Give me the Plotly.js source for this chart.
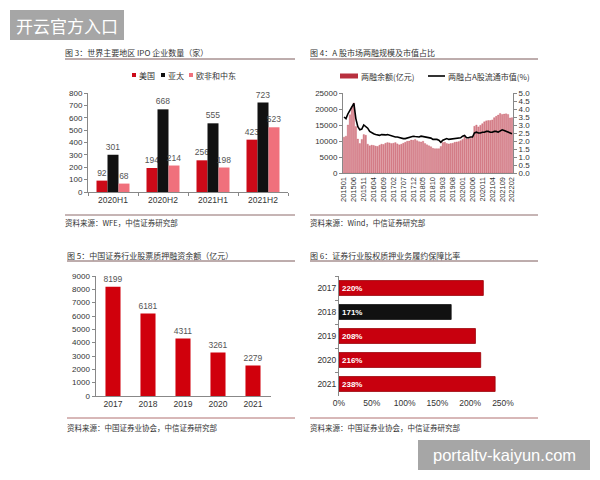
<!DOCTYPE html>
<html><head><meta charset="utf-8">
<script src="https://cdn.plot.ly/plotly-3.0.1.min.js"></script>
<style>html,body{margin:0;padding:0;background:#fff}#c{width:600px;height:480px}</style>
</head><body><div id="c"></div>
<script>
// ---- Chart 1: IPO counts ----
const ipoPeriods = ['2020H1','2020H2','2021H1','2021H2'];
const ipoUS = [92,194,256,423];
const ipoAPAC = [301,668,555,723];
const ipoEMEA = [68,214,198,523];
const ipoNames = ['美国','亚太','欧非和中东'];

// ---- Chart 2: margin trading ----
const marginMonths = [];
for (let y = 2015; y <= 2022; y++) for (let m = 1; m <= 12; m++) {
  if (y === 2022 && m > 2) break;
  marginMonths.push(String(y) + (m < 10 ? '0' : '') + m);
}
const marginBalance = [
  11200,11500,15000,18200,20800,21900,14500,10600,9200,10500,12000,11800,
  9000,8500,8700,8600,8400,8300,8700,9000,8900,9300,9500,9400,
  9200,9300,9500,9100,8800,9000,9300,9600,9900,10000,10300,10200,
  10500,10100,9800,9700,9900,9200,8800,8500,8200,7700,7600,7600,
  7600,8300,9500,9600,9200,9100,9200,9300,9600,9700,9800,10100,
  10500,11300,10600,10700,10800,11500,14600,15000,14400,14900,15400,16000,
  16300,16400,16400,16600,17300,17700,18100,18600,18300,18400,18500,18300,
  17200,17300];
const marginRatio = [
  3.5,3.4,3.7,3.9,4.1,4.35,3.4,2.9,2.7,2.75,3.0,2.9,
  2.8,2.6,2.5,2.45,2.4,2.35,2.35,2.4,2.38,2.38,2.4,2.35,
  2.3,2.25,2.25,2.25,2.2,2.2,2.15,2.15,2.2,2.25,2.3,2.3,
  2.28,2.25,2.25,2.3,2.28,2.25,2.22,2.2,2.18,2.1,2.12,2.1,
  2.05,1.92,2.05,2.12,2.15,2.1,2.12,2.15,2.15,2.15,2.18,2.2,
  2.3,2.35,2.2,2.2,2.25,2.25,2.5,2.55,2.5,2.5,2.55,2.55,
  2.6,2.6,2.55,2.55,2.6,2.6,2.55,2.62,2.7,2.65,2.6,2.5,
  2.45,2.45];
const marginNames = ['两融余额(亿元)','两融占A股流通市值(%)'];

// ---- Chart 3: pledge financing balance ----
const pledgeYears = ['2017','2018','2019','2020','2021'];
const pledgeBalance = [8199,6181,4311,3261,2279];

// ---- Chart 4: coverage ratio ----
const coverYears = ['2017','2018','2019','2020','2021'];
const coverRatio = [220,171,208,216,238];

const RED = '#cc0a18', PINK = '#f0707c', BLACK = '#111111';
const tickFont = {family:'Liberation Sans, Arial, sans-serif', size:8, color:'#333'};
const cjk = 'Noto Sans CJK SC, sans-serif';
const px = v => v/600, py = v => 1 - v/480;

const traces = [
  {type:'bar', x:ipoPeriods, y:ipoUS, name:ipoNames[0], xaxis:'x', yaxis:'y', width:0.22, offset:-0.33,
   marker:{color:RED}, text:ipoUS.map(String), textposition:'outside', constraintext:'none', cliponaxis:false,
   textfont:{family:tickFont.family, size:8.5, color:'#555'}},
  {type:'bar', x:ipoPeriods, y:ipoAPAC, name:ipoNames[1], xaxis:'x', yaxis:'y', width:0.22, offset:-0.11,
   marker:{color:BLACK}, text:ipoAPAC.map(String), textposition:'outside', constraintext:'none', cliponaxis:false,
   textfont:{family:tickFont.family, size:8.5, color:'#555'}},
  {type:'bar', x:ipoPeriods, y:ipoEMEA, name:ipoNames[2], xaxis:'x', yaxis:'y', width:0.22, offset:0.11,
   marker:{color:PINK}, text:ipoEMEA.map(String), textposition:'outside', constraintext:'none', cliponaxis:false,
   textfont:{family:tickFont.family, size:8.5, color:'#555'}},
  {type:'bar', x:marginMonths, y:marginBalance, name:marginNames[0], xaxis:'x2', yaxis:'y2', width:0.72,
   marker:{color:'#d88791', line:{color:'#c24a58', width:0.3}}},
  {type:'scatter', mode:'lines', x:marginMonths, y:marginRatio, name:marginNames[1], xaxis:'x2', yaxis:'y3',
   line:{color:'#000', width:1.6}},
  {type:'bar', x:pledgeYears, y:pledgeBalance, xaxis:'x4', yaxis:'y4', width:0.43,
   marker:{color:'#d0000c'}, text:pledgeBalance.map(String), textposition:'outside', constraintext:'none', cliponaxis:false,
   textfont:{family:tickFont.family, size:8.5, color:'#555'}},
  {type:'bar', orientation:'h', y:coverYears, x:coverRatio, xaxis:'x5', yaxis:'y5', width:0.62,
   marker:{color:coverYears.map(y => y === '2018' ? BLACK : '#c8000e'), line:{color:coverYears.map(y => y === '2018' ? BLACK : '#9a0008'), width:0.8}},
   text:coverRatio.map(v => v + '%'), textposition:'inside', insidetextanchor:'start', constraintext:'none',
   textfont:{family:tickFont.family, size:8, color:'#fff', weight:'bold'}}
];

const axBase = {showgrid:false, zeroline:false, showline:true, linecolor:'#888', linewidth:1,
  ticks:'outside', ticklen:3, tickcolor:'#888', tickfont:tickFont, fixedrange:true};

const layout = {
  width:600, height:480, margin:{l:0,r:0,t:0,b:0}, showlegend:false,
  paper_bgcolor:'#fff', plot_bgcolor:'rgba(0,0,0,0)', barmode:'overlay',
  xaxis:Object.assign({}, axBase, {domain:[px(88),px(288)], anchor:'y', type:'category', range:[-0.5,3.5], tickson:'boundaries', tickfont:Object.assign({},tickFont,{size:8.5})}),
  yaxis:Object.assign({}, axBase, {domain:[py(192),py(93)], anchor:'x', range:[0,800], dtick:100}),
  xaxis2:Object.assign({}, axBase, {domain:[px(343),px(513)], anchor:'y2', type:'category', range:[-0.5,85.5],
    tickvals:marginMonths.filter((m,i)=>i%5===0), tickangle:-90, ticks:'', tickfont:Object.assign({},tickFont,{size:7.5})}),
  yaxis2:Object.assign({}, axBase, {domain:[py(173),py(93)], anchor:'x2', range:[0,25000], dtick:5000, tickformat:'d'}),
  yaxis3:Object.assign({}, axBase, {domain:[py(173),py(93)], anchor:'x2', overlaying:'y2', side:'right', range:[0,5], dtick:0.5, tickformat:'.1f'}),
  xaxis4:Object.assign({}, axBase, {domain:[px(95.5),px(270.5)], anchor:'y4', type:'category', range:[-0.5,4.5], ticks:'', tickfont:Object.assign({},tickFont,{size:8.5})}),
  yaxis4:Object.assign({}, axBase, {domain:[py(396),py(276)], anchor:'x4', range:[0,9000], dtick:1000, tickformat:'d'}),
  xaxis5:Object.assign({}, axBase, {domain:[px(339),px(503)], anchor:'y5', range:[0,250], dtick:50, ticksuffix:'%', showline:false, ticks:'', tickfont:Object.assign({},tickFont,{size:8.5})}),
  yaxis5:Object.assign({}, axBase, {domain:[py(396),py(276)], anchor:'x5', type:'category', range:[4.5,-0.5], tickson:'boundaries', tickfont:Object.assign({},tickFont,{size:8.5})}),
  shapes:[
    {type:'line', xref:'paper', yref:'paper', x0:px(65), x1:px(295), y0:py(59), y1:py(59), line:{color:'#7d5a5a', width:1}},
    {type:'line', xref:'paper', yref:'paper', x0:px(310), x1:px(538), y0:py(59), y1:py(59), line:{color:'#7d5a5a', width:1}},
    {type:'line', xref:'paper', yref:'paper', x0:px(65), x1:px(295), y0:py(215), y1:py(215), line:{color:'#8d6a6a', width:1}},
    {type:'line', xref:'paper', yref:'paper', x0:px(310), x1:px(538), y0:py(215), y1:py(215), line:{color:'#8d6a6a', width:1}},
    {type:'line', xref:'paper', yref:'paper', x0:px(67), x1:px(295), y0:py(261), y1:py(261), line:{color:'#7d5a5a', width:1}},
    {type:'line', xref:'paper', yref:'paper', x0:px(310), x1:px(538), y0:py(261), y1:py(261), line:{color:'#7d5a5a', width:1}},
    {type:'line', xref:'paper', yref:'paper', x0:px(67), x1:px(295), y0:py(418), y1:py(418), line:{color:'#b07070', width:1}},
    {type:'line', xref:'paper', yref:'paper', x0:px(310), x1:px(538), y0:py(418), y1:py(418), line:{color:'#b07070', width:1}},
    {type:'rect', xref:'paper', yref:'paper', x0:px(132), x1:px(136), y0:py(77), y1:py(73), fillcolor:RED, line:{width:0}},
    {type:'rect', xref:'paper', yref:'paper', x0:px(161), x1:px(165), y0:py(77), y1:py(73), fillcolor:BLACK, line:{width:0}},
    {type:'rect', xref:'paper', yref:'paper', x0:px(189), x1:px(193), y0:py(77), y1:py(73), fillcolor:PINK, line:{width:0}},
    {type:'rect', xref:'paper', yref:'paper', x0:px(340), x1:px(358), y0:py(78.5), y1:py(73.5), fillcolor:'#b8303e', line:{width:0}},
    {type:'line', xref:'paper', yref:'paper', x0:px(428), x1:px(445), y0:py(76), y1:py(76), line:{color:'#000', width:1.6}},
    {type:'rect', xref:'paper', yref:'paper', x0:px(10), x1:px(124), y0:py(40), y1:py(10), fillcolor:'#a6a6a6', line:{width:0}},
    {type:'rect', xref:'paper', yref:'paper', x0:px(418), x1:px(590), y0:py(470), y1:py(440), fillcolor:'#a6a6a6', line:{width:0}}
  ],
  annotations:[]
};

function note(text, x, y, size, opts) {
  layout.annotations.push(Object.assign({text:text, xref:'paper', yref:'paper', x:px(x), y:py(y),
    xanchor:'left', yanchor:'middle', showarrow:false, font:{family:cjk, size:size, color:'#333'}}, opts || {}));
}
note('图 3：世界主要地区 IPO 企业数量（家）', 63, 52, 8);
note('图 4：A 股市场两融规模及市值占比', 308, 52, 8);
note('图 5：中国证券行业股票质押融资余额（亿元）', 65, 255, 8);
note('图 6：证券行业股权质押业务履约保障比率', 308, 255, 8);
note('资料来源：WFE，中信证券研究部', 63, 222, 7.5);
note('资料来源：Wind，中信证券研究部', 308, 222, 7.5);
note('资料来源：中国证券业协会，中信证券研究部', 65, 427, 7.5);
note('资料来源：中国证券业协会，中信证券研究部', 308, 427, 7.5);
note(ipoNames[0], 136.5, 75, 8);
note(ipoNames[1], 165.5, 75, 8);
note(ipoNames[2], 193.5, 75, 8);
note(marginNames[0], 359, 76, 8);
note(marginNames[1], 446, 76, 8);
note('开云官方入口', 67, 25.5, 17, {xanchor:'center', font:{family:cjk, size:17, color:'#fff'}});
note('portaltv-kaiyun.com', 504, 455, 16.5, {xanchor:'center', font:{family:'Liberation Sans, Arial, sans-serif', size:16.5, color:'#fff'}});

Plotly.newPlot('c', traces, layout, {staticPlot:true, displayModeBar:false});
</script></body></html>
